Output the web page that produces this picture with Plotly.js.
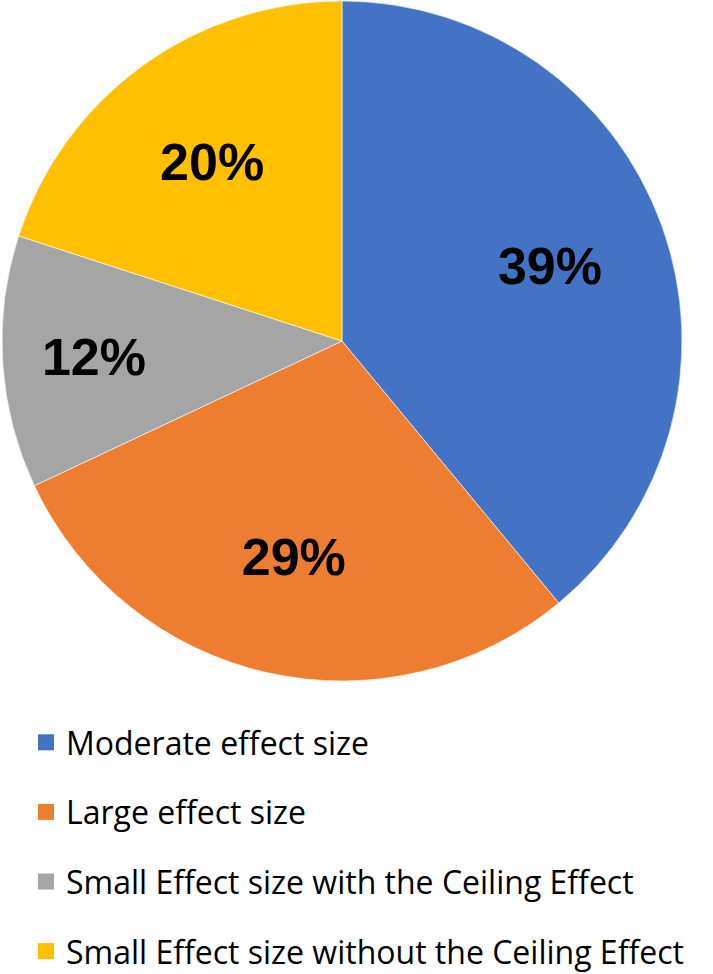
<!DOCTYPE html>
<html>
<head>
<meta charset="utf-8">
<script src="https://cdn.plot.ly/plotly-3.0.1.min.js"></script>
<style>
  html, body { margin: 0; padding: 0; background: #fff; }
  #chart { width: 713px; height: 974px; }
</style>
</head>
<body>
<div id="chart"></div>
<script>
var categories = [
	'Moderate effect size',
	'Large effect size',
	'Small Effect size with the Ceiling Effect',
	'Small Effect size without the Ceiling Effect'
];
var shares = [39, 29, 12, 20];
var colours = ['#4472C4', '#ED7D31', '#A5A5A5', '#FFC000'];

var pieDomain = { x: [2 / 713, 682 / 713], y: [1 - 681 / 974, 1 - 1 / 974] };

var pie = {
	type: 'pie',
	labels: categories,
	values: shares,
	sort: false,
	direction: 'clockwise',
	rotation: 0,
	textinfo: 'none',
	marker: { colors: colours, line: { color: '#ffffff', width: 0.6 } },
	domain: pieDomain,
	showlegend: false,
	hoverinfo: 'label+percent'
};

// transparent ring on top, only to push the percent labels outwards like Excel does
var labelRing = {
	type: 'pie',
	labels: categories,
	values: shares,
	sort: false,
	direction: 'clockwise',
	rotation: 0,
	hole: 0.3,
	textinfo: 'percent',
	textposition: 'inside',
	insidetextorientation: 'horizontal',
	textfont: { family: 'Liberation Sans, Arial, sans-serif', size: 52, color: '#000', weight: 'bold' },
	marker: { colors: ['rgba(0,0,0,0)', 'rgba(0,0,0,0)', 'rgba(0,0,0,0)', 'rgba(0,0,0,0)'], line: { width: 0 } },
	domain: pieDomain,
	showlegend: false,
	hoverinfo: 'skip'
};

// legend-only proxies so the rows can be spaced like the original
var proxies = categories.map(function (name, i) {
	return {
		type: 'scatter',
		mode: 'markers',
		x: [null],
		y: [null],
		name: name,
		legendgroup: 'g' + i,
		marker: { symbol: 'square', size: 16, color: colours[i] },
		hoverinfo: 'skip'
	};
});

var data = [pie, labelRing].concat(proxies);

var layout = {
	width: 713,
	height: 974,
	margin: { l: 0, r: 0, t: 0, b: 0, autoexpand: false },
	paper_bgcolor: '#ffffff',
	plot_bgcolor: '#ffffff',
	xaxis: { visible: false, domain: [0, 0.01] },
	yaxis: { visible: false, domain: [0, 0.01] },
	showlegend: true,
	legend: {
		x: 26 / 713,
		xanchor: 'left',
		y: 1 - 715 / 974,
		yanchor: 'top',
		traceorder: 'grouped',
		tracegroupgap: 25,
		font: { family: 'Open Sans, sans-serif', size: 32, color: '#000' },
		bgcolor: 'rgba(0,0,0,0)'
	}
};

var config = { staticPlot: true };

Plotly.newPlot('chart', data, layout, config);
</script>
</body>
</html>
